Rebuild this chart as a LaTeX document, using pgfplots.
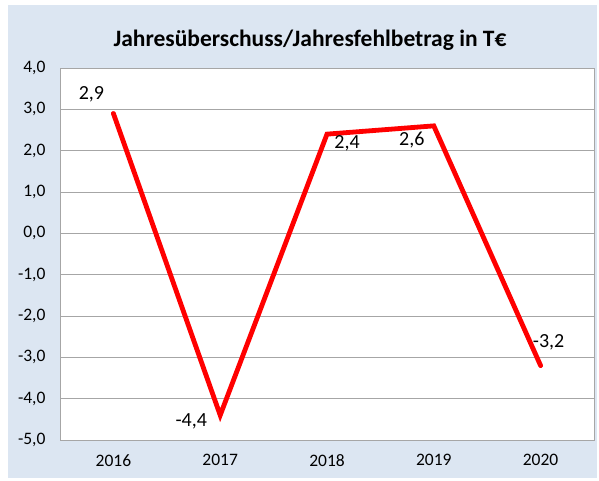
\documentclass[border=0pt]{standalone}
\usepackage{pgfplots}
\usepackage{pgfplotstable}
\pgfplotsset{compat=1.18}
\usepackage{fontspec}
\setmainfont{Carlito}
\definecolor{bgblue}{HTML}{DCE6F2}
\definecolor{gridgray}{HTML}{A6A6A6}
\pgfplotstableread{
x y dx dy
0 2.9 -22 19
1 -4.4 -29 -6
2 2.4 20 -9
3 2.6 -22 -14
4 -3.2 8 23
}\datatable
\begin{document}
\begin{tikzpicture}[x=1pt,y=1pt]
\fill[white] (0,0) rectangle (599,480);
\fill[bgblue] (8,2) rectangle (597,475);
\node[font=\fontsize{23.5}{26}\selectfont\bfseries] at (310,440) {Jahresüberschuss/Jahresfehlbetrag in T€};
\begin{axis}[
  at={(60pt,40pt)}, anchor=south west,
  scale only axis, width=534pt, height=372pt,
  xmin=-0.5, xmax=4.5, ymin=-5, ymax=4,
  xtick={0,1,2,3,4}, xticklabels={2016,2017,2018,2019,2020},
  ytick={-5,-4,...,4},
  major tick length=0pt,
  ymajorgrids, grid style={gridgray, line width=1pt},
  axis line style={gridgray, line width=1pt},
  axis background/.style={fill=white},
  tick label style={font=\fontsize{17.5}{19}\selectfont},
  /pgf/number format/assume math mode=true,
  yticklabel={\pgfmathprintnumber[fixed,fixed zerofill,precision=1,use comma]{\tick}},
  yticklabel style={xshift=-11pt},
  xticklabel style={yshift=-11pt},
  clip=false,
]
\addplot[red, line width=4.8pt, line join=miter, line cap=round,
  nodes near coords={\pgfmathprintnumber[fixed,fixed zerofill,precision=1,use comma]{\pgfplotspointmeta}},
  point meta=y,
  visualization depends on={\thisrow{dx}\as\dx},
  visualization depends on={\thisrow{dy}\as\dy},
  nodes near coords style={anchor=center, black, font=\fontsize{20}{22}\selectfont, xshift=\dx pt, yshift=\dy pt, /pgf/number format/assume math mode=true},
] table[x=x,y=y] {\datatable};
\end{axis}
\end{tikzpicture}
\end{document}
